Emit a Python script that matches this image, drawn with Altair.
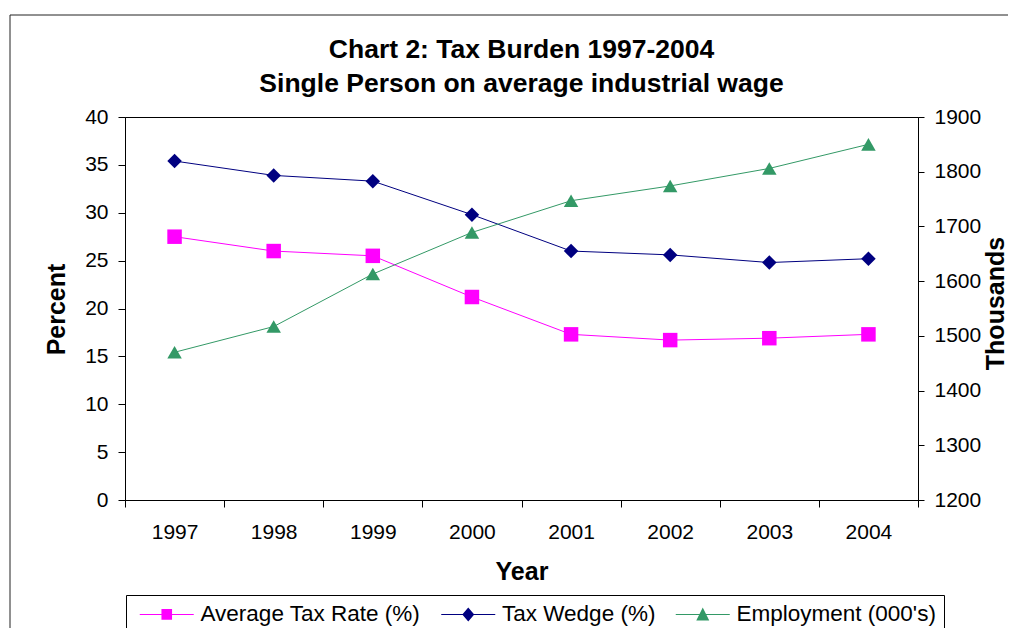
import altair as alt
import pandas as pd

years = ["1997", "1998", "1999", "2000", "2001", "2002", "2003", "2004"]
avg_tax_rate = [27.5, 26.0, 25.5, 21.2, 17.3, 16.7, 16.9, 17.3]
tax_wedge = [35.4, 33.9, 33.3, 29.8, 26.0, 25.6, 24.8, 25.2]
employment = [1470, 1517, 1613, 1689, 1747, 1774, 1806, 1850]

series_names = ["Average Tax Rate (%)", "Tax Wedge (%)", "Employment (000's)"]
series_colors = ["#FF00FF", "#000080", "#339966"]
series_shapes = ["square", "diamond", "triangle-up"]
series_sizes = [210, 210, 290]
legend_paths = [
    "M-2.7,-0.05H2.7V0.05H-2.7ZM-0.53,-0.53H0.53V0.53H-0.53Z",
    "M-2.7,-0.05H2.7V0.05H-2.7ZM0,-0.7L0.6,0L0,0.7L-0.6,0Z",
    "M-2.7,-0.05H2.7V0.05H-2.7ZM0,-0.7L0.65,0.6L-0.65,0.6Z",
]
title_lines = ["Chart 2: Tax Burden 1997-2004", "Single Person on average industrial wage"]

FONT = "Liberation Sans"

pct = pd.DataFrame({
    "Year": years * 2,
    "Series": [series_names[0]] * len(years) + [series_names[1]] * len(years),
    "Marker": [series_shapes[0]] * len(years) + [series_shapes[1]] * len(years),
    "Value": avg_tax_rate + tax_wedge,
})
emp = pd.DataFrame({"Year": years, "Series": [series_names[2]] * len(years),
                    "Marker": [series_shapes[2]] * len(years), "Value": employment})


def pick(values):
    return alt.ExprRef(
        f"datum.value === '{series_names[0]}' ? '{values[0]}' : "
        f"datum.value === '{series_names[1]}' ? '{values[1]}' : '{values[2]}'"
    )


legend = alt.Legend(
    title=None, orient="none", legendX=1, legendY=478, direction="horizontal",
    strokeColor="black", padding=8, labelFont=FONT, labelFontSize=22.5, labelColor="black",
    labelLimit=400, symbolSize=400, symbolOffset=21.5, labelOffset=22.5, columnPadding=14.5,
    symbolStrokeWidth=0, symbolOpacity=1,
    symbolType=pick(legend_paths),
)

x_enc = alt.X(
    "Year:O", bandPosition=0.5,
    scale=alt.Scale(type="band", paddingInner=0, paddingOuter=0),
    axis=alt.Axis(title="Year", tickBand="extent", labelAngle=0, tickSize=7, labelPadding=14,
                  titleX=396.5, titleY=71, titleAlign="center", titleBaseline="middle"),
)
color_enc = alt.Color("Series:N", scale=alt.Scale(domain=series_names, range=series_colors), legend=legend)
shape_enc = alt.Shape("Marker:N", scale=alt.Scale(domain=series_shapes, range=series_shapes), legend=None)
size_enc = alt.Size("Marker:N", scale=alt.Scale(domain=series_shapes, range=series_sizes), legend=None)

y_left = alt.Y("Value:Q", scale=alt.Scale(domain=[0, 40], nice=False),
               axis=alt.Axis(title="Percent", values=list(range(0, 41, 5)), tickSize=7, labelPadding=10,
                             titleX=-69, titleY=192, titleAngle=270, titleAlign="center",
                             titleBaseline="middle"))
y_right = alt.Y("Value:Q", scale=alt.Scale(domain=[1200, 1900], nice=False),
                axis=alt.Axis(title="Thousands", orient="right", values=list(range(1200, 1901, 100)),
                              format="d", tickSize=6, labelPadding=10, titleX=77, titleY=186,
                              titleAngle=270, titleAlign="center", titleBaseline="middle"))


def line_for(df, name, color, y):
    return alt.Chart(df).transform_filter(alt.datum.Series == name).mark_line(
        strokeWidth=1, color=color).encode(x=x_enc, y=y)


left = alt.layer(
    line_for(pct, series_names[0], series_colors[0], y_left),
    line_for(pct, series_names[1], series_colors[1], y_left),
    alt.Chart(pct).mark_point(filled=True, opacity=1).encode(
        x=x_enc, y=y_left, color=color_enc, shape=shape_enc, size=size_enc),
)
right = alt.layer(
    line_for(emp, series_names[2], series_colors[2], y_right),
    alt.Chart(emp).mark_point(filled=True, opacity=1).encode(
        x=x_enc, y=y_right, color=color_enc, shape=shape_enc, size=size_enc),
)

deco = pd.DataFrame({"k": [0]})
frame_left = alt.Chart(deco).mark_rule(color="#222", strokeWidth=1).encode(
    x=alt.value(-115), y=alt.value(-102), y2=alt.value(700))
frame_top = alt.Chart(deco).mark_rule(color="#222", strokeWidth=1).encode(
    x=alt.value(-115), x2=alt.value(1100), y=alt.value(-102))


def title_text(line, ypos):
    return alt.Chart(pd.DataFrame({"t": [line]})).mark_text(
        font=FONT, fontSize=26.5, fontWeight="bold", color="black", align="center",
        baseline="alphabetic").encode(text="t:N", x=alt.value(396.5), y=alt.value(ypos))


chart = alt.layer(
    left, right, frame_left, frame_top,
    title_text(title_lines[0], -59), title_text(title_lines[1], -25),
).resolve_scale(y="independent").properties(
    width=793, height=383,
    autosize=alt.AutoSizeParams(type="none"),
    padding={"left": 117, "top": 109, "right": 90, "bottom": 128},
    background="white",
).configure_view(stroke="black", strokeWidth=1).configure_axis(
    labelFont=FONT, labelFontSize=21, labelColor="black", titleFont=FONT, titleFontSize=25,
    titleFontWeight="bold", titleColor="black", domainColor="black", tickColor="black",
    grid=False,
)

chart.save("out.html", embed_options={"renderer": "svg", "actions": False})
